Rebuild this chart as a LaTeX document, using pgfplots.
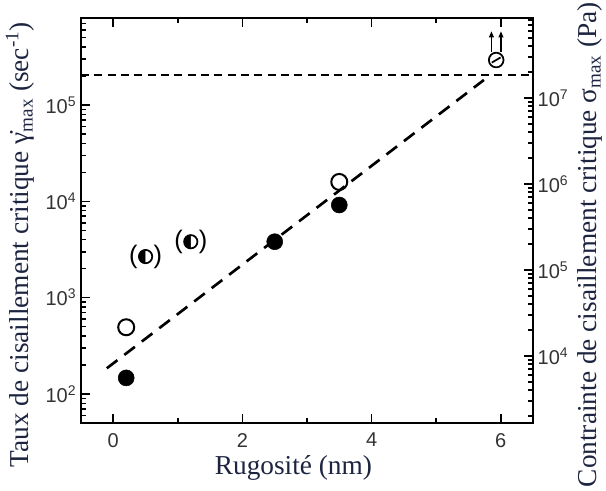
\documentclass[border=0pt]{standalone}
\usepackage{pgfplots}
\pgfplotsset{compat=1.18}
\usepackage{fontspec}
\setmainfont{Liberation Serif}
\newfontfamily\ticksf{Liberation Sans}
\usetikzlibrary{calc}
\definecolor{labcol}{HTML}{1C2440}
\definecolor{tickcol}{HTML}{333333}

% circle with a slash, two small arrows above it (lower bound)
\pgfdeclareplotmark{oslasharrows}{%
  \pgfpathcircle{\pgfpointorigin}{\pgfplotmarksize}%
  \pgfusepathqstroke
  \pgfpathmoveto{\pgfpoint{-0.6\pgfplotmarksize}{-0.35\pgfplotmarksize}}%
  \pgfpathlineto{\pgfpoint{0.6\pgfplotmarksize}{0.35\pgfplotmarksize}}%
  \pgfusepathqstroke
  \pgfpathmoveto{\pgfpoint{-0.65\pgfplotmarksize}{1.1\pgfplotmarksize}}%
  \pgfpathlineto{\pgfpoint{-0.65\pgfplotmarksize}{3.4\pgfplotmarksize}}%
  \pgfpathmoveto{\pgfpoint{0.65\pgfplotmarksize}{1.1\pgfplotmarksize}}%
  \pgfpathlineto{\pgfpoint{0.65\pgfplotmarksize}{3.4\pgfplotmarksize}}%
  \pgfusepathqstroke
  \pgfpathmoveto{\pgfpoint{-1.0\pgfplotmarksize}{3.1\pgfplotmarksize}}%
  \pgfpathlineto{\pgfpoint{-0.65\pgfplotmarksize}{3.9\pgfplotmarksize}}%
  \pgfpathlineto{\pgfpoint{-0.3\pgfplotmarksize}{3.1\pgfplotmarksize}}%
  \pgfpathclose
  \pgfpathmoveto{\pgfpoint{0.3\pgfplotmarksize}{3.1\pgfplotmarksize}}%
  \pgfpathlineto{\pgfpoint{0.65\pgfplotmarksize}{3.9\pgfplotmarksize}}%
  \pgfpathlineto{\pgfpoint{1.0\pgfplotmarksize}{3.1\pgfplotmarksize}}%
  \pgfpathclose
  \pgfusepathqfill
}

\begin{document}
\begin{tikzpicture}[tk/.style={draw=black, line width=1.2pt}]
\pgfplotsset{
  tickfont/.style={font=\ticksf\fontsize{15}{15}\selectfont, text=tickcol},
  mytick/.style={
    tick align=inside,
    major tick length=7pt, minor tick length=3.5pt,
    tick style={draw=black, line width=1.2pt},
    axis line style={line width=1.5pt},
  },
}
\begin{axis}[
  name=main, mytick,
  scale only axis, width=339pt, height=303.75pt,
  xmin=-0.5, xmax=6.5,
  ymode=log, log basis y=10, ymin=50, ymax=8e5,
  xtick={0,2,4,6}, minor xtick={1,3,5},
  ytick={1e2,1e3,1e4,1e5},
  xticklabels={0,2,4,6},
  yticklabels={10\textsuperscript{2},10\textsuperscript{3},10\textsuperscript{4},10\textsuperscript{5}},
  ytick pos=left,
  xticklabel style={tickfont, yshift=-4pt},
  yticklabel style={tickfont},
]
% tick marks along the frame (7pt major, 3.5pt minor)
\pgfplotsinvokeforeach{0,2,4,6}{
  \draw[tk] (axis cs:#1,50) -- (axis cs:#1,62.5);
  \draw[tk] (axis cs:#1,8e5) -- (axis cs:#1,6.4e5);
}
\pgfplotsinvokeforeach{1,3,5}{
  \draw[tk] (axis cs:#1,50) -- (axis cs:#1,55.9);
  \draw[tk] (axis cs:#1,8e5) -- (axis cs:#1,7.156e5);
}
\pgfplotsinvokeforeach{1e2,1e3,1e4,1e5}{
  \draw[tk] (axis cs:-0.5,#1) -- (axis cs:-0.3555,#1);
}
\pgfplotsinvokeforeach{60,70,80,90,200,300,400,500,600,700,800,900,
    2000,3000,4000,5000,6000,7000,8000,9000,
    2e4,3e4,4e4,5e4,6e4,7e4,8e4,9e4,2e5,3e5,4e5,5e5,6e5,7e5}{
  \draw[tk] (axis cs:-0.5,#1) -- (axis cs:-0.4277,#1);
}
% fit line
\addplot[black, line width=2pt, dash pattern=on 10pt off 6.5pt]
  coordinates {(-0.1,185) (5.74,1.82e5)};
% upper limit
\addplot[black, line width=1.5pt, dash pattern=on 6pt off 4pt]
  coordinates {(-0.5,2.05e5) (6.5,2.05e5)};
% filled circles
\addplot[only marks, mark=*, mark size=6pt, mark options={fill=black, draw=black}]
  coordinates {(0.2,147) (2.5,3810) (3.5,9160)};
% open circles
\addplot[only marks, mark=o, mark size=6pt, mark options={draw=black, line width=1.5pt}]
  coordinates {(0.2,493) (3.5,15900)};
% half-filled circles, in parentheses
\addplot[only marks, mark=halfcircle*, mark size=5pt,
  mark options={rotate=90, fill=black, draw=black, line width=1.3pt},
  nodes near coords={(\hspace{12pt})},
  every node near coord/.style={anchor=center, font=\ticksf\fontsize{19}{19}\selectfont}]
  coordinates {(0.5,2670) (1.2,3810)};
% lower bound at 6 nm
\addplot[only marks, mark=oslasharrows, mark size=5.5pt,
  mark options={draw=black, fill=black, line width=1.3pt}]
  coordinates {(5.93,2.93e5)};
\end{axis}
\begin{axis}[
  mytick,
  scale only axis, width=339pt, height=303.75pt,
  xmin=-0.5, xmax=6.5,
  ymode=log, log basis y=10, ymin=1660, ymax=8.5e7,
  axis x line=none, axis y line*=right,
  ytick={1e4,1e5,1e6,1e7},
  yticklabels={10\textsuperscript{4},10\textsuperscript{5},10\textsuperscript{6},10\textsuperscript{7}},
  yticklabel style={tickfont},
]
\addplot[draw=none] coordinates {(0,1e5)};
\pgfplotsinvokeforeach{1e4,1e5,1e6,1e7}{
  \draw[tk] (axis cs:6.5,#1) -- (axis cs:6.3555,#1);
}
\pgfplotsinvokeforeach{2000,3000,4000,5000,6000,7000,8000,9000,
    2e4,3e4,4e4,5e4,6e4,7e4,8e4,9e4,2e5,3e5,4e5,5e5,6e5,7e5,8e5,9e5,
    2e6,3e6,4e6,5e6,6e6,7e6,8e6,9e6,2e7,3e7,4e7,5e7,6e7,7e7,8e7}{
  \draw[tk] (axis cs:6.5,#1) -- (axis cs:6.4277,#1);
}
\end{axis}
\node[rotate=90, anchor=center, text=labcol, font=\fontsize{20.5}{24}\selectfont]
  at ($(main.south west)!0.44!(main.north west)+(-45.75pt,0)$)
  {Taux de cisaillement critique γ̇\textsubscript{max} (sec\textsuperscript{-1})};
\node[rotate=90, anchor=center, text=labcol, font=\fontsize{20.5}{24}\selectfont]
  at ($(main.south east)!0.44!(main.north east)+(42.75pt,0)$)
  {Contrainte de cisaillement critique σ\textsubscript{max} (Pa)};
\node[anchor=center, text=labcol, font=\fontsize{20.5}{24}\selectfont]
  at ($(main.south west)!0.47!(main.south east)+(0,-33.75pt)$) {Rugosité (nm)};
\pgfresetboundingbox
\path[use as bounding box] ($(main.south west)+(-60.75pt,-50.25pt)$) rectangle ($(main.north east)+(54.75pt,13.5pt)$);
\end{tikzpicture}
\end{document}
